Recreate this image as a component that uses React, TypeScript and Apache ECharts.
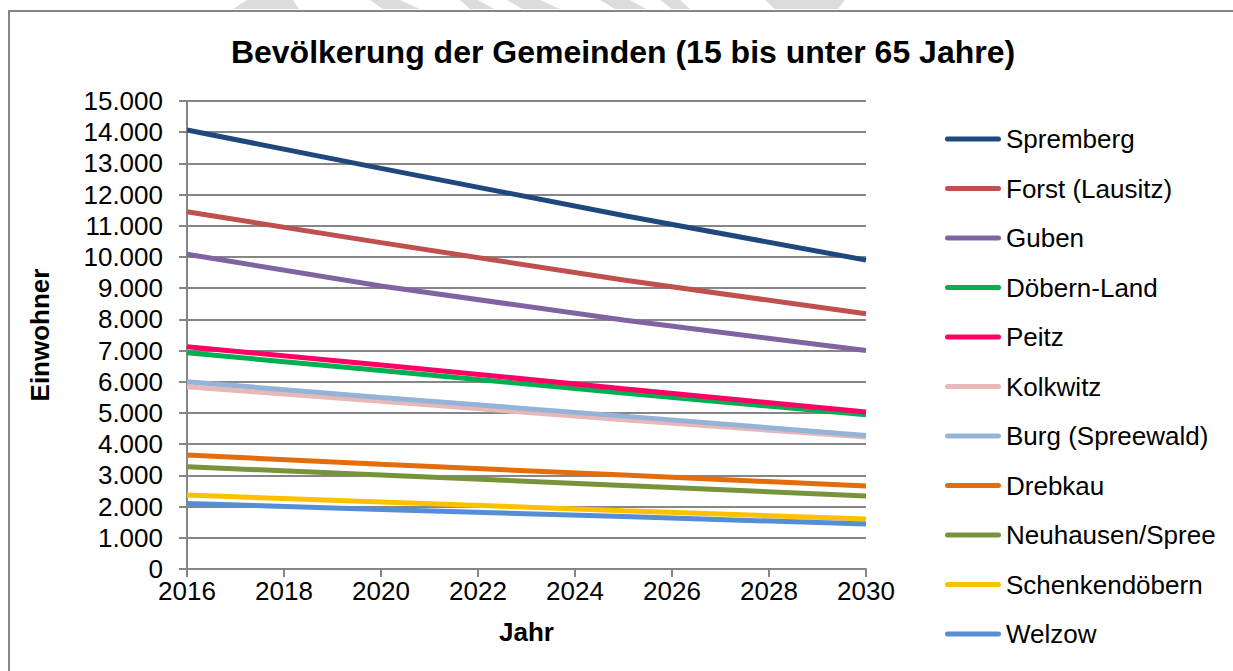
import React, { useEffect, useRef } from "react";
import * as echarts from "echarts";

const years = [2016, 2020, 2025, 2030];
const seriesNames = [
  "Spremberg",
  "Forst (Lausitz)",
  "Guben",
  "Döbern-Land",
  "Peitz",
  "Kolkwitz",
  "Burg (Spreewald)",
  "Drebkau",
  "Neuhausen/Spree",
  "Schenkendöbern",
  "Welzow",
];
const spremberg = [14070, 12840, 11330, 9900];
const forst = [11450, 10460, 9260, 8180];
const guben = [10090, 9070, 7980, 7000];
const doebernLand = [6930, 6360, 5640, 4940];
const peitz = [7120, 6540, 5780, 5030];
const kolkwitz = [5840, 5380, 4780, 4230];
const burg = [6000, 5500, 4900, 4280];
const drebkau = [3650, 3360, 3010, 2660];
const neuhausen = [3280, 3010, 2680, 2340];
const schenkendoebern = [2370, 2150, 1870, 1600];
const welzow = [2100, 1910, 1680, 1440];
const seriesValues = [
  spremberg,
  forst,
  guben,
  doebernLand,
  peitz,
  kolkwitz,
  burg,
  drebkau,
  neuhausen,
  schenkendoebern,
  welzow,
];
const colors = [
  "#1F497D",
  "#C0504D",
  "#8064A2",
  "#00B050",
  "#FF0066",
  "#E6B9B8",
  "#95B3D7",
  "#E46C0A",
  "#77933C",
  "#FFC000",
  "#558ED5",
];
const titleText = "Bevölkerung der Gemeinden (15 bis unter 65 Jahre)";
const yAxisName = "Einwohner";
const xAxisName = "Jahr";

const FONT = "'Liberation Sans', Arial, sans-serif";
const GRID_COLOR = "#868686";
const LEGEND_ICON =
  "path://M2.5,0 L53.5,0 A2.5,2.5 0 0 1 53.5,5 L2.5,5 A2.5,2.5 0 0 1 2.5,0 Z";

export default function App() {
  const ref = useRef<HTMLDivElement>(null);
  useEffect(() => {
    if (!ref.current) return;
    const chart = echarts.init(ref.current, null, { renderer: "svg" });
    const option: any = {
      animation: false,
      backgroundColor: "#ffffff",
      color: colors,
      textStyle: { fontFamily: FONT },
      title: {
        text: titleText,
        left: 623,
        textAlign: "center",
        top: 35,
        padding: 0,
        textStyle: {
          fontFamily: FONT,
          fontSize: 32,
          fontWeight: "bold",
          color: "#000",
          lineHeight: 34,
        },
      },
      grid: { left: 187, right: 367, top: 101, bottom: 102 },
      legend: {
        orient: "vertical",
        left: 945,
        top: 126,
        padding: 0,
        itemWidth: 56,
        itemHeight: 14,
        itemGap: 23.5,
        icon: LEGEND_ICON,
        textStyle: {
          fontFamily: FONT,
          fontSize: 26,
          color: "#000",
          lineHeight: 26,
        },
        data: seriesNames,
      },
      xAxis: {
        type: "value",
        min: 2016,
        max: 2030,
        interval: 2,
        name: xAxisName,
        nameLocation: "middle",
        nameGap: 50,
        nameTextStyle: {
          fontFamily: FONT,
          fontSize: 26,
          fontWeight: "bold",
          color: "#000",
        },
        axisLine: { show: true, lineStyle: { color: GRID_COLOR, width: 2 } },
        axisTick: {
          show: true,
          inside: false,
          length: 8,
          lineStyle: { color: GRID_COLOR, width: 2 },
        },
        splitLine: { show: false },
        axisLabel: {
          fontFamily: FONT,
          fontSize: 26,
          color: "#000",
          margin: 13,
          lineHeight: 18,
          formatter: (v: number) => String(v),
        },
      },
      yAxis: {
        type: "value",
        min: 0,
        max: 15000,
        interval: 1000,
        name: yAxisName,
        nameLocation: "middle",
        nameGap: 134,
        nameTextStyle: {
          fontFamily: FONT,
          fontSize: 26,
          fontWeight: "bold",
          color: "#000",
        },
        axisLine: { show: true, lineStyle: { color: GRID_COLOR, width: 2 } },
        axisTick: {
          show: true,
          inside: false,
          length: 8,
          lineStyle: { color: GRID_COLOR, width: 2 },
        },
        splitLine: { show: true, lineStyle: { color: GRID_COLOR, width: 2 } },
        axisLabel: {
          fontFamily: FONT,
          fontSize: 26,
          color: "#000",
          margin: 24,
          lineHeight: 18,
          formatter: (v: number) =>
            v === 0 ? "0" : v.toString().replace(/\B(?=(\d{3})+(?!\d))/g, "."),
        },
      },
      graphic: [
        {
          type: "polygon",
          silent: true,
          shape: { points: [[247, 0], [293, 0], [299, 9], [233, 9]] },
          style: { fill: "#DCDCDC" },
        },
        {
          type: "polygon",
          silent: true,
          shape: { points: [[370, 0], [400, 0], [420, 9], [383, 9]] },
          style: { fill: "#DCDCDC" },
        },
        {
          type: "polygon",
          silent: true,
          shape: { points: [[460, 0], [478, 0], [494, 9], [470, 9]] },
          style: { fill: "#DCDCDC" },
        },
        {
          type: "polygon",
          silent: true,
          shape: { points: [[507, 0], [540, 0], [560, 9], [522, 9]] },
          style: { fill: "#DCDCDC" },
        },
        {
          type: "polygon",
          silent: true,
          shape: { points: [[600, 0], [630, 0], [646, 9], [615, 9]] },
          style: { fill: "#DCDCDC" },
        },
        {
          type: "polygon",
          silent: true,
          shape: { points: [[660, 0], [680, 0], [690, 9], [672, 9]] },
          style: { fill: "#DCDCDC" },
        },
        {
          type: "polygon",
          silent: true,
          shape: { points: [[765, 0], [845, 0], [838, 9], [775, 9]] },
          style: { fill: "#DCDCDC" },
        },
        {
          type: "rect",
          silent: true,
          shape: { x: 9, y: 11, width: 1240, height: 700 },
          style: { fill: "none", stroke: GRID_COLOR, lineWidth: 2 },
        },
      ],
      series: seriesNames.map((name, i) => ({
        name,
        type: "line",
        data: years.map((y, j) => [y, seriesValues[i][j]]),
        symbol: "none",
        smooth: false,
        lineStyle: { width: 5, color: colors[i] },
        itemStyle: { color: colors[i] },
        z: 2 + i,
      })),
    };
    chart.setOption(option);
    return () => chart.dispose();
  }, []);
  return (
    <div
      ref={ref}
      style={{ position: "fixed", left: 0, top: 0, width: 1233, height: 671 }}
    />
  );
}
